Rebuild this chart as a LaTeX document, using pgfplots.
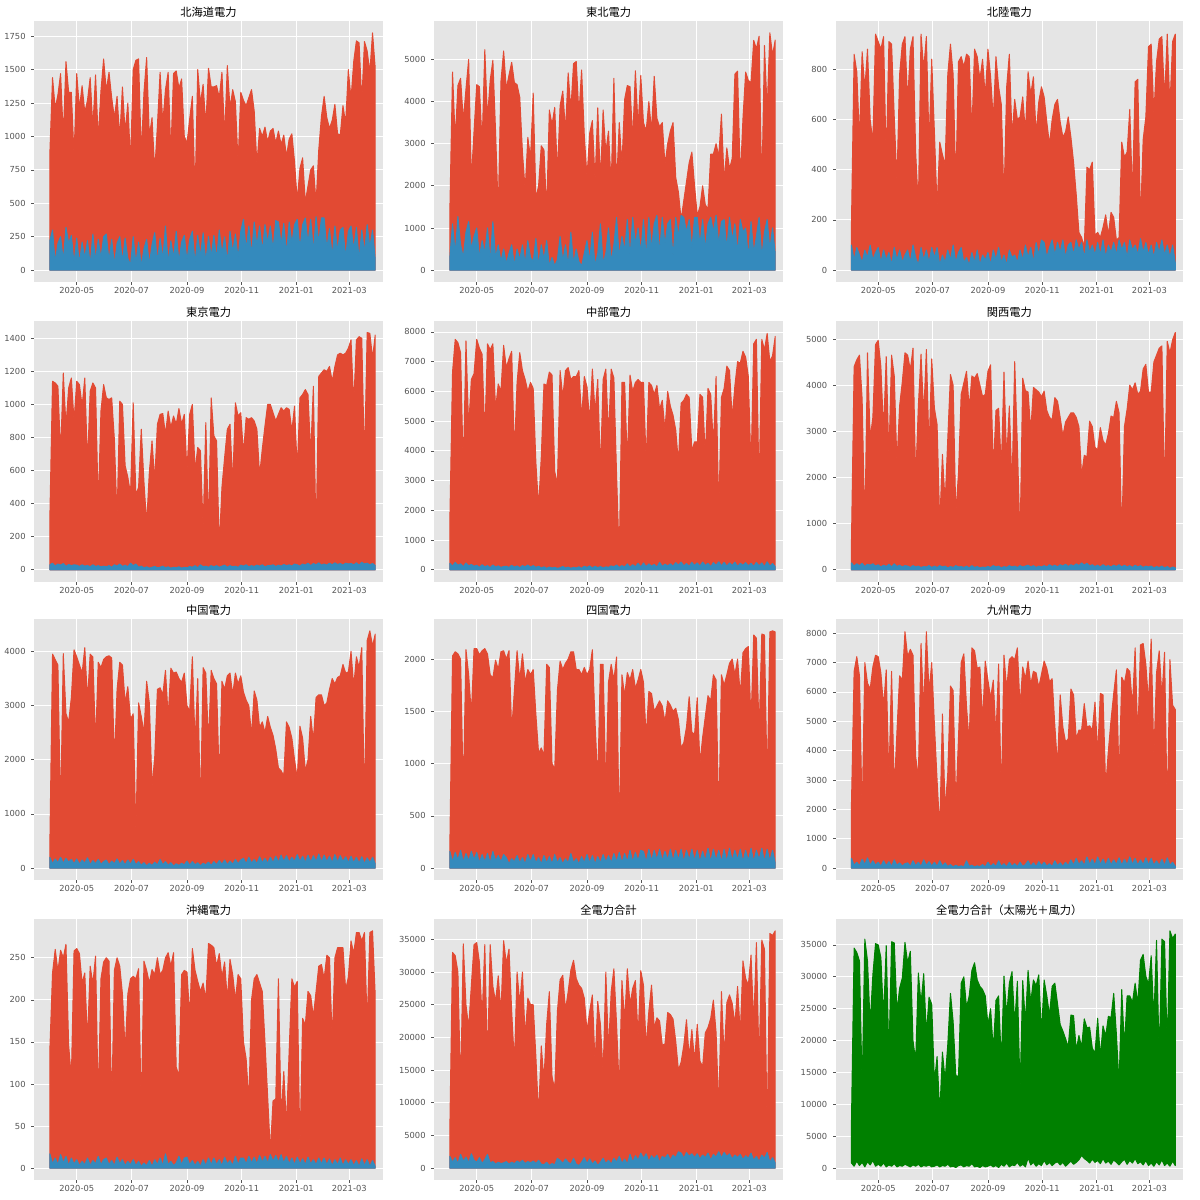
\documentclass[border=0pt]{standalone}
\usepackage{fontspec}
\usepackage{pgfplots}
\usepackage{pgfplotstable}
\pgfplotsset{compat=1.18}
\newfontfamily\cjkfont{Noto Sans CJK JP}
\newfontfamily\tickfont{DejaVu Sans}
\definecolor{mred}{HTML}{E24A33}
\definecolor{mblue}{HTML}{348ABD}
\definecolor{bggrey}{HTML}{E5E5E5}
\definecolor{tickgrey}{HTML}{555555}
\definecolor{mgreen}{HTML}{008000}
\pgfplotsset{
  sub/.style={
    anchor=south west, scale only axis, height=313.2pt,
    xmin=-17.3, xmax=371.3,
    axis background/.style={fill=bggrey},
    axis line style={draw=none},
    xmajorgrids, ymajorgrids,
    grid style={draw=white, line width=1pt},
    tick align=outside, tick pos=left,
    major tick length=3.5pt,
    tick style={draw=tickgrey, line width=0.8pt},
    xtick={30,91,153,214,275,334},
    xticklabels={2020-05,2020-07,2020-09,2020-11,2021-01,2021-03},
    ticklabel style={font=\tickfont, text=tickgrey},
    xticklabel style={inner sep=0pt, yshift=-2.9pt},
    yticklabel style={inner sep=0pt, xshift=-6.8pt},
    scaled y ticks=false,
    /pgf/number format/assume math mode=true,
    /pgf/number format/1000 sep={},
    title style={font=\cjkfont\fontsize{13.5}{16}\selectfont, at={(0.5,1)}, anchor=base, yshift=-0.5pt},
  },
  solar/.style={draw=mred, fill=mred, line width=1.2pt, line join=round, mark=none},
  wind/.style={draw=mblue, fill=mblue, line width=1.2pt, line join=round, mark=none},
}
% Hokkaido
\pgfplotstableread{
d s w
0 870 220
3 1440 300
6 1210 60
9 1310 200
12 1470 250
15 1000 70
18 1560 320
21 1330 200
24 1330 260
27 850 50
30 1470 240
33 1210 50
36 1380 210
39 1180 90
42 1270 220
45 1440 40
48 1070 270
51 1460 70
54 980 230
57 1340 90
60 1580 250
63 1340 270
66 1480 70
69 1290 230
72 1140 40
75 1300 200
78 990 250
81 1370 60
84 1030 240
87 1250 90
90 810 40
93 1500 250
96 1570 50
99 1580 210
102 870 30
105 1330 160
108 1590 230
111 1000 40
114 1140 190
117 740 280
120 1080 60
123 1480 240
126 1100 80
129 1350 330
132 1480 50
135 870 220
138 1470 90
141 1490 290
144 1360 60
147 1430 210
150 1000 260
153 950 70
156 1130 230
159 1300 290
162 560 50
165 1500 260
168 1250 100
171 1390 280
174 1080 60
177 1510 250
180 1370 100
183 1370 260
186 1380 80
189 1290 300
192 1480 120
195 1000 250
198 1530 60
201 1210 290
204 1350 130
207 1260 270
210 800 90
213 1330 290
216 1270 380
219 1230 150
222 1290 330
225 1350 110
228 1190 360
231 790 180
234 1060 330
237 1000 140
240 1070 340
243 960 200
246 1040 330
249 1060 150
252 950 370
255 1040 360
258 940 190
261 1010 350
264 850 120
267 980 360
270 1020 200
273 810 340
276 520 380
279 760 160
282 840 340
285 510 390
288 630 200
291 750 380
294 780 140
297 500 400
300 900 200
303 1150 390
306 1300 390
309 1140 160
312 1060 310
315 1120 100
318 1240 330
321 1020 140
324 1010 300
327 1230 320
330 1100 90
333 1500 290
336 1280 330
339 1560 150
342 1715 320
345 1700 80
348 1260 300
351 1710 130
354 1640 340
357 1480 170
360 1775 300
363 1510 80
}\dA
% Tohoku
\pgfplotstableread{
d s w
0 1400 300
3 4700 1100
6 3100 400
9 4380 1270
12 4550 600
15 3550 300
18 4300 900
21 5000 1150
24 2150 500
27 3300 800
30 4400 1000
33 4350 300
36 3000 700
39 5230 400
42 3600 1000
45 4500 200
48 4980 1150
51 3300 300
54 1400 600
57 4480 200
60 5200 500
63 4300 150
66 4630 400
69 4930 600
72 4450 100
75 4400 500
78 4100 250
81 2800 600
84 1900 150
87 3150 700
90 2650 300
93 4200 200
96 1700 750
99 2000 100
102 2950 600
105 2850 250
108 1400 700
111 3800 100
114 3450 300
117 3860 100
120 2300 250
123 3900 800
126 4250 200
129 3300 600
132 4680 100
135 3800 900
138 4900 150
141 4950 500
144 3700 200
147 4750 100
150 3200 400
153 2200 700
156 3250 200
159 3550 900
162 2100 100
165 3850 400
168 2100 1100
171 3800 150
174 2800 400
177 3300 1000
180 2000 200
183 4550 600
186 2000 1250
189 3500 300
192 2500 800
195 4050 450
198 4380 1200
201 4350 300
204 3100 1250
207 4730 600
210 3400 1000
213 4620 400
216 3500 1200
219 3300 300
222 4000 1250
225 3300 500
228 4600 1100
231 3600 1300
234 3400 400
237 3500 1250
240 2500 600
243 3000 1100
246 3300 1200
249 3500 300
252 2200 1250
255 1850 800
258 1200 1300
261 1650 1250
264 2100 900
267 2550 1200
270 2800 500
273 2000 1250
276 1300 1250
279 1500 600
282 2000 1200
285 1550 500
288 1450 1100
291 2750 1250
294 2750 900
297 3000 1300
300 2700 600
303 3700 1150
306 2100 1200
309 2900 500
312 2400 1250
315 2650 700
318 4650 1100
321 4720 400
324 2150 1200
327 3600 900
330 4700 1000
333 4500 300
336 4450 1150
339 5450 400
342 5250 800
345 5550 1250
348 1850 300
351 5330 900
354 3800 1200
357 5630 500
360 5100 1000
363 5460 400
}\dB
% Hokuriku
\pgfplotstableread{
d s w
0 180 100
3 860 40
6 790 90
9 520 60
12 870 30
15 720 80
18 880 50
21 600 100
24 510 40
27 940 70
30 910 90
33 880 30
36 930 80
39 430 40
42 910 70
45 900 20
48 610 90
51 350 40
54 780 80
57 900 30
60 930 60
63 670 80
66 880 30
69 930 100
72 470 50
75 250 20
78 940 90
81 800 40
84 930 80
87 500 30
90 840 90
93 550 50
96 250 90
99 510 20
102 460 60
105 420 30
108 780 80
111 900 40
114 780 100
117 340 30
120 830 70
123 850 90
126 810 30
129 860 50
132 850 20
135 550 70
138 880 30
141 850 80
144 760 20
147 840 60
150 690 40
153 880 70
156 770 20
159 600 80
162 850 40
165 730 90
168 660 30
171 280 60
174 730 20
177 860 80
180 530 50
183 680 60
186 600 30
189 610 80
192 690 40
195 550 100
198 790 50
201 700 90
204 770 30
207 540 110
210 670 60
213 730 120
216 690 110
219 590 50
222 500 90
225 600 120
228 660 60
231 680 110
234 590 70
237 530 120
240 550 50
243 610 100
246 530 110
249 430 60
252 300 120
255 150 80
258 130 110
261 90 50
264 410 120
267 400 70
270 430 100
273 140 60
276 150 110
279 130 60
282 170 120
285 220 50
288 140 100
291 230 70
294 210 110
297 120 60
300 130 120
303 510 80
306 450 110
309 470 50
312 640 120
315 300 80
318 750 100
321 760 60
324 190 125
327 520 70
330 610 110
333 890 60
336 900 100
339 620 50
342 830 110
345 920 70
348 930 120
351 680 60
354 940 100
357 650 50
360 910 100
363 940 30
}\dC
% Tokyo
\pgfplotstableread{
d s w
0 310 30
3 1140 40
6 1130 22
9 1110 35
12 700 28
15 1190 38
18 870 20
21 1100 32
24 1160 25
27 900 30
30 1140 28
33 1120 20
36 990 30
39 1160 22
42 640 26
45 1080 18
48 1130 30
51 1100 20
54 380 25
57 960 18
60 1120 22
63 1040 18
66 1030 25
69 1040 15
72 790 30
75 310 22
78 1020 35
81 1000 20
84 630 28
87 560 18
90 460 40
93 1010 25
96 450 35
99 500 15
102 850 22
105 530 12
108 280 18
111 590 10
114 780 15
117 540 20
120 880 12
123 940 15
126 945 22
129 820 12
132 960 18
135 860 10
138 930 15
141 880 12
144 975 18
147 880 10
150 940 15
153 590 12
156 940 20
159 1000 15
162 600 25
165 740 12
168 720 30
171 250 18
174 890 22
177 250 15
180 1040 25
183 810 18
186 780 25
189 140 15
192 500 22
195 680 28
198 850 15
201 880 25
204 520 18
207 1010 22
210 930 15
213 950 28
216 700 22
219 920 30
222 910 18
225 920 25
228 900 20
231 850 28
234 570 22
237 730 30
240 870 18
243 1000 25
246 1000 25
249 950 30
252 900 20
255 940 28
258 980 22
261 960 32
264 980 25
267 970 30
270 840 22
273 990 35
276 600 30
279 1040 22
282 1060 35
285 1090 28
288 1060 40
291 700 25
294 1110 38
297 180 30
300 1170 42
303 1190 28
306 1210 35
309 1200 28
312 1230 40
315 1140 30
318 1230 42
321 1300 32
324 1310 38
327 1300 28
330 1310 40
333 1340 35
336 1390 38
339 1000 30
342 1390 42
345 1410 28
348 1400 45
351 640 35
354 1435 40
357 1430 30
360 1280 38
363 1420 25
}\dD
% Chubu
\pgfplotstableread{
d s w
0 1650 220
3 6650 120
6 7750 250
9 7640 150
12 7300 200
15 3300 100
18 7700 230
21 4800 130
24 6400 180
27 6600 120
30 7750 150
33 7450 80
36 7250 170
39 4500 100
42 7600 140
45 7400 70
48 7600 160
51 5400 90
54 6250 130
57 6000 80
60 7550 110
63 6800 120
66 7100 80
69 7350 150
72 3900 90
75 6300 130
78 7300 70
81 6700 140
84 6400 100
87 6000 160
90 6300 90
93 6100 140
96 3600 80
99 2100 120
102 3800 60
105 6250 100
108 6200 50
111 6650 90
114 6550 60
117 3300 80
120 2900 50
123 6700 70
126 5800 110
129 6700 60
132 6800 90
135 6400 50
138 6500 80
141 6500 60
144 6700 100
147 5100 50
150 6500 120
153 6150 80
156 5000 130
159 6750 60
162 5300 120
165 6400 70
168 3300 110
171 6400 60
174 6750 100
177 4500 80
180 6750 130
183 6450 100
186 3200 160
189 400 80
192 6300 140
195 6300 90
198 3600 200
201 6550 80
204 6000 170
207 6300 100
210 6400 220
213 6300 90
216 6300 230
219 3600 100
222 6300 200
225 6200 120
228 5900 180
231 6200 90
234 5400 250
237 5700 110
240 4700 190
243 6000 130
246 5500 200
249 5200 120
252 4700 240
255 3600 150
258 5600 260
261 5700 130
264 5900 210
267 5800 120
270 4000 250
273 4300 140
276 4300 230
279 5900 120
282 5800 260
285 3800 140
288 6100 220
291 5900 100
294 4200 240
297 6500 150
300 1900 270
303 5800 130
306 6100 250
309 6850 120
312 6700 230
315 5100 140
318 6200 260
321 7000 110
324 6950 220
327 7350 150
330 7150 240
333 6500 130
336 3400 220
339 7600 110
342 7750 250
345 2700 130
348 7750 230
351 7400 100
354 7950 270
357 7000 120
360 7200 210
363 7850 100
}\dE
% Kansai
\pgfplotstableread{
d s w
0 580 150
3 4400 80
6 4550 130
9 4650 90
12 3700 140
15 860 70
18 4700 120
21 2850 100
24 3300 130
27 4880 80
30 4970 110
33 4400 60
36 3000 100
39 4620 70
42 2450 120
45 4650 60
48 4200 130
51 2300 70
54 3550 100
57 4070 60
60 4700 90
63 4650 80
66 4330 50
69 4800 90
72 1950 60
75 3550 80
78 4670 50
81 3350 70
84 4770 60
87 2600 90
90 4570 50
93 3500 80
96 3150 50
99 1000 90
102 2500 60
105 1450 80
108 2850 40
111 4230 70
114 4000 50
117 1200 90
120 2100 60
123 3800 70
126 4050 50
129 4300 80
132 3500 40
135 4200 90
138 4150 50
141 4250 70
144 4000 40
147 3750 60
150 3800 50
153 4300 70
156 4440 50
159 2150 90
162 3450 60
165 3500 80
168 2200 40
171 4280 70
174 2400 50
177 3550 90
180 1800 60
183 4510 80
186 2700 50
189 650 90
192 4150 60
195 3880 80
198 3850 100
201 3000 60
204 3950 90
207 3900 50
210 3850 80
213 3750 60
216 3870 90
219 3450 60
222 3300 110
225 3250 70
228 3730 100
231 3650 60
234 3300 110
237 2900 80
240 3200 120
243 3300 70
246 3400 110
249 3400 80
252 3300 130
255 3100 90
258 2050 150
261 2480 100
264 2450 140
267 3220 80
270 3100 110
273 2650 70
276 2600 100
279 3080 60
282 2800 110
285 2700 70
288 2950 90
291 3330 60
294 3300 100
297 3650 70
300 3400 110
303 700 60
306 3100 100
309 3480 60
312 4000 90
315 3900 50
318 4050 100
321 3800 60
324 3870 90
327 4350 50
330 4450 80
333 3850 60
336 3850 80
339 4500 40
342 4650 70
345 4800 50
348 4850 80
351 1600 40
354 4950 70
357 4700 30
360 4980 60
363 5140 40
}\dF
% Chugoku
\pgfplotstableread{
d s w
0 420 200
3 3950 80
6 3850 170
9 3750 100
12 1000 200
15 3960 90
18 2850 180
21 2700 110
24 3150 160
27 4030 80
30 3900 170
33 3750 70
36 3600 150
39 4070 90
42 3100 190
45 3950 60
48 3900 140
51 2300 80
54 3800 160
57 3700 70
60 3850 120
63 3900 150
66 3920 60
69 3880 130
72 1950 80
75 3300 170
78 3800 70
81 3750 140
84 3050 60
87 3350 150
90 2750 70
93 2850 160
96 650 60
99 3050 120
102 2800 50
105 2500 100
108 3450 40
111 3050 90
114 1500 50
117 2050 110
120 3300 60
123 3330 160
126 3200 60
129 3650 120
132 2800 50
135 3690 100
138 3600 40
141 3620 80
144 3500 50
147 3430 90
150 3600 60
153 3000 130
156 2900 50
159 3900 120
162 2300 60
165 3500 100
168 1050 40
171 3700 90
174 3600 60
177 2300 110
180 3650 50
183 3500 120
186 3400 60
189 1600 140
192 3450 70
195 3300 150
198 3550 60
201 3600 130
204 3200 70
207 3600 160
210 3400 80
213 3550 150
216 3250 180
219 3100 80
222 3000 200
225 2450 90
228 3270 160
231 3100 80
234 2600 210
237 2700 100
240 2500 180
243 2800 90
246 2600 200
249 2450 100
252 2200 220
255 1850 110
258 1800 240
261 1700 120
264 2700 230
267 2600 110
270 2400 200
273 2000 120
276 1650 250
279 2620 120
282 2400 220
285 1800 100
288 2000 240
291 2800 110
294 2350 230
297 3150 120
300 3200 260
303 3200 110
306 3000 240
309 3050 120
312 3300 220
315 3500 100
318 3400 250
321 3520 110
324 3550 230
327 3760 120
330 3600 210
333 3620 100
336 4000 220
339 3350 100
342 3900 200
345 3700 90
348 4070 210
351 1150 80
354 4200 190
357 4380 100
360 4100 200
363 4320 80
}\dG
% Shikoku
\pgfplotstableread{
d s w
0 220 160
3 2030 60
6 2070 150
9 2050 80
12 2000 170
15 710 60
18 2090 140
21 1850 70
24 1470 160
27 2100 80
30 2100 150
33 2040 50
36 2080 130
39 2100 60
42 2050 140
45 1850 50
48 1820 160
51 1990 70
54 1900 120
57 2070 60
60 2080 130
63 2000 100
66 2080 40
69 1320 90
72 1700 60
75 2080 120
78 1800 50
81 2050 100
84 1780 40
87 1900 130
90 1850 60
93 1900 130
96 1470 50
99 1100 100
102 1150 40
105 1080 120
108 1950 50
111 1920 110
114 1000 40
117 950 130
120 1700 50
123 1980 100
126 1900 40
129 1960 90
132 2000 50
135 2070 140
138 2070 50
141 1900 90
144 1900 40
147 1850 110
150 1920 50
153 1850 130
156 1900 50
159 2090 120
162 1400 40
165 820 110
168 1950 50
171 1950 130
174 750 60
177 1780 120
180 1950 50
183 1800 140
186 2020 60
189 300 150
192 1850 50
195 1650 140
198 1870 60
201 1800 170
204 1900 60
207 1720 150
210 1800 70
213 1900 170
216 1780 160
219 1250 60
222 1690 180
225 1670 70
228 1500 170
231 1550 80
234 1600 180
237 1550 70
240 1400 160
243 1600 80
246 1560 180
249 1500 70
252 1530 170
255 1420 80
258 1150 180
261 1200 60
264 1350 170
267 1640 80
270 1300 180
273 1280 70
276 1630 170
279 1000 60
282 1250 160
285 1450 70
288 1650 190
291 1600 60
294 1850 180
297 1800 70
300 450 170
303 1850 60
306 1750 180
309 1850 60
312 1960 190
315 2000 70
318 1850 170
321 2000 80
324 1650 180
327 2060 60
330 2100 170
333 2120 70
336 1400 190
339 2230 60
342 2200 170
345 1300 80
348 2240 190
351 2230 60
354 780 180
357 2260 70
360 2270 170
363 2260 50
}\dH
% Kyushu
\pgfplotstableread{
d s w
0 2150 330
3 6700 100
6 7200 200
9 6550 80
12 1800 300
15 7000 120
18 6300 350
21 6100 90
24 6850 250
27 7250 100
30 7200 200
33 6650 60
36 5500 250
39 6750 80
42 3000 220
45 6700 60
48 2650 280
51 4650 90
54 6550 180
57 6400 70
60 8050 150
63 7200 180
66 7450 60
69 7250 250
72 3800 80
75 3100 200
78 7650 60
81 5400 280
84 8050 90
87 6000 220
90 7000 70
93 4900 200
96 3000 60
99 1300 250
102 5250 70
105 2000 180
108 3250 50
111 6200 120
114 6050 40
117 2100 100
120 4450 50
123 7000 80
126 7300 40
129 5500 250
132 4300 60
135 7500 100
138 7400 40
141 6800 80
144 6850 50
147 5000 120
150 7050 40
153 6400 200
156 5800 60
159 6400 150
162 4500 50
165 6950 250
168 2300 60
171 7250 150
174 6100 40
177 7100 200
180 7200 60
183 7100 150
186 7500 50
189 5500 200
192 6850 60
195 6450 120
198 7050 250
201 6250 60
204 6700 180
207 6650 50
210 6150 220
213 6600 80
216 7050 200
219 6800 70
222 6350 150
225 6450 60
228 4850 250
231 3500 80
234 5900 180
237 4800 60
240 4300 200
243 4400 80
246 6100 280
249 5900 100
252 4400 330
255 4700 120
258 4700 250
261 5600 90
264 4800 380
267 4850 120
270 4700 300
273 5650 100
276 3900 380
279 5950 120
282 5900 300
285 2750 100
288 4000 330
291 5050 110
294 5950 280
297 6750 120
300 3000 350
303 6500 100
306 6300 300
309 6800 110
312 6700 380
315 5500 120
318 7500 330
321 4400 100
324 7600 280
327 7650 120
330 6950 350
333 5650 110
336 7800 330
339 3800 100
342 6650 250
345 7400 90
348 5850 300
351 7350 80
354 1850 350
357 7100 100
360 5550 200
363 5400 60
}\dI
% Okinawa
\pgfplotstableread{
d s w
0 140 17
3 232 5
6 260 12
9 234 4
12 259 16
15 250 6
18 266 14
21 146 3
24 107 12
27 258 5
30 261 10
33 255 3
36 220 8
39 232 4
42 150 12
45 240 3
48 219 9
51 252 5
54 77 14
57 225 4
60 245 10
63 250 12
66 246 4
69 70 9
72 235 3
75 250 13
78 240 5
81 207 10
84 140 3
87 207 8
90 225 4
93 228 10
96 225 3
99 237 8
102 65 2
105 246 6
108 235 3
111 220 9
114 236 2
117 230 10
120 250 4
123 230 12
126 235 3
129 250 17
132 256 4
135 240 8
138 256 3
141 120 6
144 110 14
147 230 4
150 235 12
153 233 13
156 180 4
159 261 9
162 235 3
165 222 8
168 210 2
171 220 10
174 200 3
177 267 12
180 265 4
183 262 12
186 240 4
189 255 10
192 227 3
195 245 13
198 200 5
201 248 9
204 230 3
207 200 14
210 230 4
213 225 12
216 150 12
219 130 5
222 80 14
225 200 6
228 225 13
231 230 5
234 220 15
237 210 7
240 150 14
243 85 6
246 20 16
249 80 8
252 82 15
255 225 7
258 60 16
261 115 6
264 50 14
267 140 5
270 225 12
273 215 4
276 222 13
279 20 5
282 178 11
285 170 4
288 210 13
291 205 5
294 180 10
297 210 4
300 240 12
303 242 5
306 225 12
309 253 4
312 250 11
315 150 3
318 250 10
321 262 4
324 262 12
327 262 3
330 212 10
333 227 4
336 270 10
339 255 3
342 280 9
345 280 2
348 270 11
351 280 3
354 170 10
357 280 2
360 282 9
363 205 2
}\dJ
% All total
\pgfplotstableread{
d s w
0 6000 1800
3 33000 900
6 32500 1600
9 30000 700
12 12000 2100
15 34300 1000
18 25000 1700
21 21500 800
24 28000 2200
27 34200 1200
30 34500 900
33 31500 1600
36 23000 700
39 34200 1300
42 16000 2100
45 34200 800
48 27800 1000
51 25500 600
54 29400 900
57 23700 700
60 34800 800
63 31300 1000
66 33500 600
69 24000 900
72 16000 700
75 30000 1100
78 25200 800
81 30000 1200
84 20000 700
87 26000 1000
90 25000 800
93 25000 1100
96 17000 700
99 8000 1200
102 18700 600
105 13500 500
108 22000 900
111 27000 400
114 14000 700
117 12000 500
120 24000 1500
123 28800 1200
126 29500 700
129 24200 1400
132 27000 900
135 30300 600
138 31800 1500
141 29000 600
144 28000 400
147 27500 900
150 26000 1600
153 21000 700
156 24000 1400
159 26500 600
162 16000 1100
165 25500 400
168 22000 900
171 14500 1500
174 30000 700
177 18000 1200
180 27000 600
183 30500 1500
186 22000 900
189 12000 1800
192 28700 700
195 22500 1400
198 30500 600
201 25000 2100
204 27500 900
207 28700 1900
210 20000 1200
213 30200 2300
216 28000 1500
219 18500 2200
222 24000 1000
225 28000 1900
228 21500 1400
231 23000 2000
234 22500 900
237 18800 1800
240 19000 1500
243 23800 2100
246 23500 1200
249 22800 2000
252 19400 1600
255 15000 2500
258 16200 2300
261 18800 1500
264 22700 2400
267 17000 1800
270 21200 2200
273 16300 1600
276 22000 2200
279 16400 1400
282 15500 2000
285 20700 1600
288 21500 2300
291 22900 1200
294 25700 2100
297 20800 1700
300 9000 2500
303 27000 1600
306 17000 2400
309 25300 1800
312 26500 2200
315 25200 1400
318 22000 2000
321 27800 1600
324 20500 2100
327 31700 1300
330 29000 1900
333 28000 1500
336 32600 2300
339 22000 1200
342 34500 1800
345 15500 1000
348 34900 2000
351 33500 1500
354 5000 2400
357 35900 900
360 35600 1600
363 36300 800
}\dK
% Solar + wind: upper envelope forward, lower envelope backward
\pgfplotstableread{
d v
0 7000
3 34500
6 33800
9 32500
12 12500
15 35900
18 32500
21 22500
24 30300
27 35200
30 35000
33 33000
36 23500
39 34900
42 17500
45 35500
48 35300
51 24500
54 28200
57 29800
60 35400
63 32200
66 34000
69 20000
72 16800
75 30600
78 25800
81 30500
84 21000
87 26800
90 25700
93 13500
96 17500
99 8500
102 18200
105 13800
108 19400
111 27400
114 23000
117 14500
120 14400
123 29000
126 30000
129 25200
132 27000
135 31000
138 32200
141 29500
144 28500
147 28000
150 27000
153 22500
156 25000
159 18500
162 26300
165 27000
168 16500
171 30100
174 24000
177 29000
180 30800
183 22500
186 29300
189 12000
192 29400
195 22800
198 31000
201 26000
204 29500
207 28600
210 30300
213 21000
216 29500
219 27000
222 24000
225 28500
228 29000
231 25800
234 22500
237 21500
240 20300
243 19000
246 24000
249 23900
252 18500
255 20800
258 19000
261 23400
264 22000
267 22100
270 18800
273 18000
276 23500
279 17500
282 22300
285 20700
288 23800
291 23600
294 27400
297 21000
300 13200
303 28000
306 19000
309 27000
312 27000
315 26000
318 29000
321 25800
324 32600
327 33500
330 30100
333 28800
336 33300
339 23300
342 35700
345 17200
348 35900
351 35500
354 19000
357 37200
360 36000
363 36700
363 400
360 1100
357 300
354 800
351 400
348 1300
345 500
342 1000
339 300
336 800
333 400
330 1200
327 500
324 1000
321 700
318 1500
315 800
312 1200
309 600
306 1400
303 1000
300 500
297 900
294 1300
291 600
288 1100
285 800
282 1500
279 700
276 1200
273 900
270 1400
267 800
264 1200
261 1500
258 2000
255 1300
252 900
249 600
246 1100
243 700
240 300
237 900
234 500
231 1000
228 800
225 400
222 900
219 500
216 1200
213 400
210 700
207 300
204 900
201 500
198 1600
195 200
192 600
189 300
186 900
183 400
180 500
177 200
174 800
171 300
168 600
165 100
162 400
159 200
156 500
153 300
150 200
147 400
144 100
141 300
138 200
135 700
132 300
129 400
126 200
123 500
120 400
117 100
114 300
111 200
108 600
105 300
102 400
99 200
96 500
93 300
90 200
87 500
84 300
81 400
78 200
75 600
72 300
69 500
66 200
63 400
60 600
57 300
54 400
51 200
48 700
45 300
42 500
39 200
36 800
33 300
30 600
27 300
24 1200
21 500
18 1000
15 200
12 900
9 400
6 1100
3 300
0 800
}\dL
\begin{document}
\begin{tikzpicture}
\path (0,0) rectangle (1440pt,1440pt);
% Row 1
\begin{axis}[sub, at={(41.2pt,1101.6pt)}, width=418pt, ymin=-88.75, ymax=1863.75, ytick={0,250,...,1750}, title={北海道電力}]
\addplot[solar] table[x=d,y=s]{\dA} \closedcycle;
\addplot[wind] table[x=d,y=w]{\dA} \closedcycle;
\end{axis}
\begin{axis}[sub, at={(521.2pt,1101.6pt)}, width=418pt, ymin=-281.5, ymax=5911.5, ytick={0,1000,...,5000}, title={東北電力}]
\addplot[solar] table[x=d,y=s]{\dB} \closedcycle;
\addplot[wind] table[x=d,y=w]{\dB} \closedcycle;
\end{axis}
\begin{axis}[sub, at={(1003.2pt,1101.6pt)}, width=416pt, ymin=-47.25, ymax=992.25, ytick={0,200,...,800}, title={北陸電力}]
\addplot[solar] table[x=d,y=s]{\dC} \closedcycle;
\addplot[wind] table[x=d,y=w]{\dC} \closedcycle;
\end{axis}
% Row 2
\begin{axis}[sub, at={(41.2pt,742pt)}, width=418pt, ymin=-71.75, ymax=1506.75, ytick={0,200,...,1400}, title={東京電力}]
\addplot[solar] table[x=d,y=s]{\dD} \closedcycle;
\addplot[wind] table[x=d,y=w]{\dD} \closedcycle;
\end{axis}
\begin{axis}[sub, at={(521.2pt,742pt)}, width=418pt, ymin=-399, ymax=8379, ytick={0,1000,...,8000}, title={中部電力}]
\addplot[solar] table[x=d,y=s]{\dE} \closedcycle;
\addplot[wind] table[x=d,y=w]{\dE} \closedcycle;
\end{axis}
\begin{axis}[sub, at={(1003.2pt,742pt)}, width=416pt, ymin=-257, ymax=5397, ytick={0,1000,...,5000}, title={関西電力}]
\addplot[solar] table[x=d,y=s]{\dF} \closedcycle;
\addplot[wind] table[x=d,y=w]{\dF} \closedcycle;
\end{axis}
% Row 3
\begin{axis}[sub, at={(41.2pt,384pt)}, width=418pt, ymin=-219, ymax=4599, ytick={0,1000,...,4000}, title={中国電力}]
\addplot[solar] table[x=d,y=s]{\dG} \closedcycle;
\addplot[wind] table[x=d,y=w]{\dG} \closedcycle;
\end{axis}
\begin{axis}[sub, at={(521.2pt,384pt)}, width=418pt, ymin=-113.5, ymax=2383.5, ytick={0,500,...,2000}, title={四国電力}]
\addplot[solar] table[x=d,y=s]{\dH} \closedcycle;
\addplot[wind] table[x=d,y=w]{\dH} \closedcycle;
\end{axis}
\begin{axis}[sub, at={(1003.2pt,384pt)}, width=416pt, ymin=-404, ymax=8484, ytick={0,1000,...,8000}, title={九州電力}]
\addplot[solar] table[x=d,y=s]{\dI} \closedcycle;
\addplot[wind] table[x=d,y=w]{\dI} \closedcycle;
\end{axis}
% Row 4
\begin{axis}[sub, at={(41.2pt,24pt)}, width=418pt, ymin=-14.1, ymax=296.1, ytick={0,50,...,250}, title={沖縄電力}]
\addplot[solar] table[x=d,y=s]{\dJ} \closedcycle;
\addplot[wind] table[x=d,y=w]{\dJ} \closedcycle;
\end{axis}
\begin{axis}[sub, at={(521.2pt,24pt)}, width=418pt, ymin=-1815, ymax=38115, ytick={0,5000,...,35000}, title={全電力合計}]
\addplot[solar] table[x=d,y=s]{\dK} \closedcycle;
\addplot[wind] table[x=d,y=w]{\dK} \closedcycle;
\end{axis}
\begin{axis}[sub, at={(1003.2pt,24pt)}, width=416pt, ymin=-1860, ymax=39060, ytick={0,5000,...,35000}, title={全電力合計（太陽光＋風力）}]
\addplot[draw=mgreen, fill=mgreen, line width=1.2pt, line join=round, mark=none] table[x=d,y=v]{\dL} -- cycle;
\end{axis}
\end{tikzpicture}
\end{document}
